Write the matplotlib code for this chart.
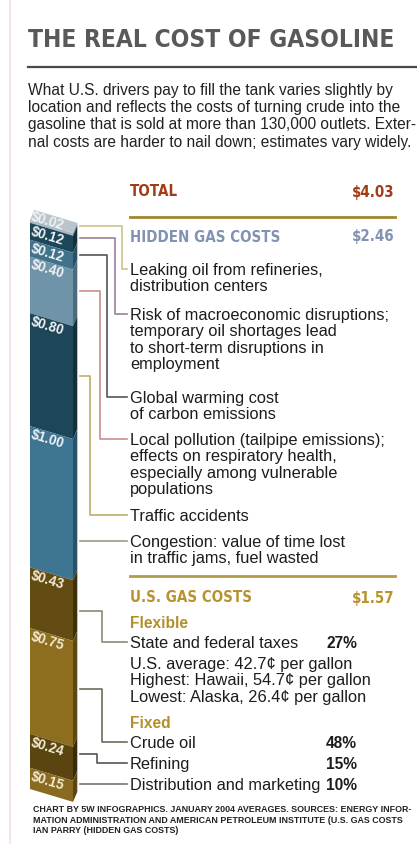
import numpy as np
import matplotlib
matplotlib.use("Agg")
import matplotlib.pyplot as plt
import matplotlib.font_manager as fm
from matplotlib.patches import Polygon
from matplotlib.transforms import Affine2D

# ---------------------------------------------------------------
# data, top of the column first
# ---------------------------------------------------------------
hidden_values = [0.02, 0.12, 0.12, 0.40, 0.80, 1.00]
hidden_items = [
    "Leaking oil from refineries,\ndistribution centers",
    "Risk of macroeconomic disruptions;\ntemporary oil shortages lead\nto short-term disruptions in\nemployment",
    "Global warming cost\nof carbon emissions",
    "Local pollution (tailpipe emissions);\neffects on respiratory health,\nespecially among vulnerable\npopulations",
    "Traffic accidents",
    "Congestion: value of time lost\nin traffic jams, fuel wasted",
]
us_values = [0.43, 0.75, 0.24, 0.15]
us_items = ["State and federal taxes", "Crude oil", "Refining", "Distribution and marketing"]
us_shares = ["27%", "48%", "15%", "10%"]
tax_notes = "U.S. average: 42.7¢ per gallon\nHighest: Hawaii, 54.7¢ per gallon\nLowest: Alaska, 26.4¢ per gallon"

total_cost = 4.03
hidden_total = 2.46
us_total = 1.57

title = "THE REAL COST OF GASOLINE"
intro = ("What U.S. drivers pay to fill the tank varies slightly by\n"
         "location and reflects the costs of turning crude into the\n"
         "gasoline that is sold at more than 130,000 outlets. Exter-\n"
         "nal costs are harder to nail down; estimates vary widely.")
footer = ("CHART BY 5W INFOGRAPHICS. JANUARY 2004 AVERAGES. SOURCES: ENERGY INFOR-\n"
          "MATION ADMINISTRATION AND AMERICAN PETROLEUM INSTITUTE (U.S. GAS COSTS\n"
          "IAN PARRY (HIDDEN GAS COSTS)")

# ---------------------------------------------------------------
# styling
# ---------------------------------------------------------------
front_colors = ["#a9b8c2", "#1d4658", "#41728b", "#6f93a8", "#1e4659", "#3e7593",
                "#624c13", "#8d6d1e", "#5a4510", "#886a20"]
side_colors = ["#7d8b94", "#12303d", "#2b5064", "#4c6b7d", "#12303e", "#295269",
               "#3f300a", "#5e4812", "#3a2c08", "#5a4613"]
label_colors = ["#eef2f4"] * 6 + ["#f3ead2"] * 4
line_colors = ["#c9c488", "#9c7f9c", "#555555", "#c98d8d", "#bcae6c", "#9a9a8a",
               "#8a8a72", "#6d6d58", "#555555", "#777770"]
anchor_frac = [1.0, 0.75, 0.7, 0.55, 0.53, 0.8, 0.67, 0.55, 0.5, 0.55]
elbow_x = [122, 115, 107, 100, 90, None, 102, 102, 97, None]
item_y = [269, 314, 397, 439, 515, 541, 642, 742, 763, 784]
line_h = 16.3

sans = ["Liberation Sans", "DejaVu Sans"]
body_color = "#1c1c1c"


def condensed_bold():
    # look for any installed narrow / condensed bold face, else plain bold
    for f in fm.fontManager.ttflist:
        n = (f.name + " " + f.fname).lower()
        st = str(f.stretch).lower()
        cond = "narrow" in n or "condensed" in n or st in ("condensed", "semi-condensed", "extra-condensed")
        w = fm.weight_dict.get(f.weight, f.weight) if isinstance(f.weight, str) else f.weight
        if cond and w >= 600 and "italic" not in n and "oblique" not in n:
            return fm.FontProperties(fname=f.fname)
    return fm.FontProperties(family=sans, weight="bold")


cond_font = condensed_bold()

W, H = 417, 844
fig = plt.figure(figsize=(W / 100, H / 100), dpi=100)
fig.patch.set_facecolor("white")
renderer = fig.canvas.get_renderer()

ov = fig.add_axes([0, 0, 1, 1])
ov.set_xlim(0, W)
ov.set_ylim(H, 0)
ov.axis("off")
ov.set_zorder(3)


def fit(t, width):
    w = t.get_window_extent(renderer).width
    t.set_fontsize(t.get_fontsize() * width / w)
    return t.get_fontsize()


def put_lines(x, y0, text, dy, **kw):
    out = []
    for k, line in enumerate(text.split("\n")):
        out.append(ov.text(x, y0 + k * dy, line, va="center_baseline", **kw))
    return out


# faint page edge
ov.plot([10, 10], [0, H], color="#f3e0e0", lw=1.2)

# ---------------------------------------------------------------
# header
# ---------------------------------------------------------------
t = ov.text(28, 40, title, fontproperties=cond_font, fontsize=20,
            color="#595959", ha="left", va="center")
fit(t, 366)
ov.plot([28, W], [67, 67], color="#4a4a4a", lw=1.6)
put_lines(28, 89, intro, 17.2, family=sans, fontsize=11.2, color="#222222", ha="left")

# ---------------------------------------------------------------
# stacked 3d-ish column
# ---------------------------------------------------------------
values = hidden_values + us_values
top_px, bottom_px, left_px, face_w = 220, 789, 30, 43
bx = fig.add_axes([left_px / W, (H - bottom_px) / H, face_w / W, (bottom_px - top_px) / H])
bx.set_xlim(0, 1)
bx.set_ylim(0, total_cost)
bx.axis("off")
bx.set_zorder(1)

x0 = bx.transData.transform((0, 0))[0]
skew = Affine2D().translate(-x0, 0).skew(0, -np.arctan(0.3)).translate(x0, 0)
tr = bx.transData + skew
to_ov = lambda p: ov.transData.inverted().transform(tr.transform(p))

depth_x, depth_y = 0.1, 0.08
tops = total_cost - np.concatenate([[0], np.cumsum(values)[:-1]])
bottoms = tops - np.array(values)

bars = bx.bar(0.5, values, width=1.0, bottom=bottoms, color=front_colors, lw=0)
for r in bars:
    r.set_transform(tr)
    r.set_clip_on(False)

for tp, b, c in zip(tops, bottoms, side_colors):
    bx.add_patch(Polygon([(1, b), (1 + depth_x, b + depth_y), (1 + depth_x, tp + depth_y), (1, tp)],
                         closed=True, facecolor=c, lw=0, transform=tr, clip_on=False))
T = total_cost
bx.add_patch(Polygon([(0, T), (1, T), (1 + depth_x, T + depth_y), (depth_x, T + depth_y)],
                     closed=True, facecolor="#b9c4cb", lw=0, transform=tr, clip_on=False))

# value labels on the column, pushed apart where segments are thin
label_y = [0.0] * len(values)
nxt = 1e9
for i in range(len(values) - 1, -1, -1):
    yt = to_ov((0, tops[i]))[1]
    label_y[i] = min(yt + 8, nxt - 15)
    nxt = label_y[i]
for i, v in enumerate(values):
    ov.text(left_px + 1, label_y[i], f"${v:.2f}", rotation=-17, rotation_mode="anchor",
            ha="left", va="center", family=sans, weight="bold", fontsize=9.8,
            color=label_colors[i])

# connector lines
text_x, line_end = 130, 127
for i, v in enumerate(values):
    ya = tops[i] - anchor_frac[i] * v
    xs, ys = to_ov((1 + depth_x, ya + depth_y))
    xs += 3
    ye = item_y[i]
    if elbow_x[i] is None:
        ov.plot([xs, line_end], [ye, ye], color=line_colors[i], lw=1.2)
    else:
        xv = elbow_x[i]
        ov.plot([xs, xv, xv, line_end], [ys, ys, ye, ye], color=line_colors[i], lw=1.2)

# ---------------------------------------------------------------
# right-hand legend text
# ---------------------------------------------------------------
right_x = 395
t = ov.text(text_x, 237, "HIDDEN GAS COSTS", fontproperties=cond_font, fontsize=12,
            color="#8292b3", va="center")
hs = fit(t, 150)
ov.text(right_x, 237, f"${hidden_total:.2f}", fontproperties=cond_font, fontsize=hs,
        color="#8292b3", va="center", ha="right")
ov.text(text_x, 192, "TOTAL", fontproperties=cond_font, fontsize=hs, color="#a33b17",
        va="center")
ov.text(right_x, 192, f"${total_cost:.2f}", fontproperties=cond_font, fontsize=hs,
        color="#a33b17", va="center", ha="right")
ov.plot([text_x, right_x], [217, 217], color="#a5852e", lw=2)

for i, txt in enumerate(hidden_items):
    put_lines(text_x, item_y[i], txt, line_h, family=sans, fontsize=11.8,
              color=body_color, ha="left")

ov.plot([text_x, right_x], [576, 576], color="#b59a4a", lw=2)
ov.text(text_x, 598, "U.S. GAS COSTS", fontproperties=cond_font, fontsize=hs,
        color="#b8922e", va="center")
ov.text(right_x, 598, f"${us_total:.2f}", fontproperties=cond_font, fontsize=hs,
        color="#b8922e", va="center", ha="right")
ov.text(text_x, 622, "Flexible", family=sans, weight="bold", fontsize=11.2,
        color="#b38f2c", va="center_baseline")
ov.text(text_x, 722, "Fixed", family=sans, weight="bold", fontsize=11.2,
        color="#b38f2c", va="center_baseline")
put_lines(text_x, 663, tax_notes, line_h, family=sans, fontsize=11.8, color=body_color)

pct_x = 357
for i, (txt, pct) in enumerate(zip(us_items, us_shares)):
    y = item_y[len(hidden_values) + i]
    ov.text(text_x, y, txt, family=sans, fontsize=11.8, color=body_color,
            va="center_baseline")
    ov.text(pct_x, y, pct, family=sans, weight="bold", fontsize=11.2, color=body_color,
            va="center_baseline", ha="right")

foot = put_lines(33, 809, footer, 10.2, family=sans, weight="bold", fontsize=6.2,
                 color="#222222", ha="left")
fs = fit(foot[0], 380)
for t in foot[1:]:
    t.set_fontsize(fs)

fig.savefig("out.png", dpi=100)
